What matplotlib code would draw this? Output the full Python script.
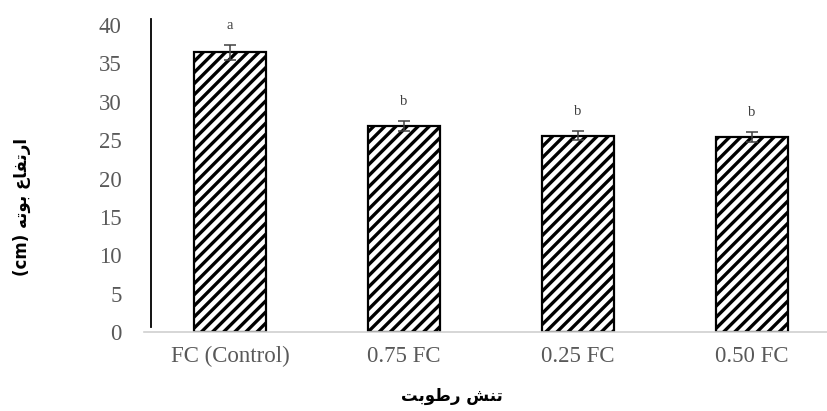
import matplotlib
matplotlib.use("Agg")
import matplotlib.pyplot as plt
import numpy as np

# data
categories = ["FC (Control)", "0.75 FC", "0.25 FC", "0.50 FC"]
heights = [36.45, 26.9, 25.6, 25.45]
errors = [0.95, 0.65, 0.6, 0.65]
letters = ["a", "b", "b", "b"]
y_ticks = [0, 5, 10, 15, 20, 25, 30, 35, 40]

# Persian labels, pre-shaped (presentation forms, visual order) since matplotlib has no bidi
y_label = "(cm) \uFEEA\uFE97\uFEEE\uFE91 \uFEC9\uFE8E\uFED4\uFE97\uFEAD\uFE8D"   # ارتفاع بوته (cm)
x_label = "\uFE96\uFE91\uFEEE\uFEC3\uFEAD \uFEB6\uFEE8\uFE97"                    # تنش رطوبت

plt.rcParams["font.family"] = ["Liberation Serif", "DejaVu Sans"]
plt.rcParams["hatch.linewidth"] = 2.4
plt.rcParams["hatch.color"] = "black"

fig = plt.figure(figsize=(8.28, 4.11), dpi=100)
ax = fig.add_axes([144 / 828, 79 / 411, 695 / 828, 307 / 411])

x = np.arange(len(categories))
ax.bar(x, heights, width=0.41, color="white", edgecolor="black", linewidth=1.6,
       hatch="///", zorder=2)
ax.errorbar(x, heights, yerr=errors, fmt="none", ecolor="#404040", elinewidth=1.1,
            capsize=4, capthick=1.1, zorder=3)

for xi, h, e, lab in zip(x, heights, errors, letters):
    ax.annotate(lab, (xi, h + e), xytext=(0, 14), textcoords="offset points",
                ha="center", va="center", fontsize=10.5, color="#404040")

ax.set_xlim(-0.494, 3.5)
ax.set_ylim(0, 40)
ax.set_yticks(y_ticks)
ax.set_xticks(x)
ax.set_xticklabels(categories)

ax.tick_params(axis="both", labelsize=16.5, labelcolor="#595959")
ax.tick_params(axis="y", length=0, pad=21)
ax.tick_params(axis="x", length=0, pad=10)

for s in ["top", "right"]:
    ax.spines[s].set_visible(False)
ax.spines["bottom"].set_color("#d0d0d0")
ax.spines["bottom"].set_linewidth(1.2)
ax.spines["left"].set_position(("outward", -5))
ax.spines["left"].set_bounds(0.7, 40.8)
ax.spines["left"].set_linewidth(1.3)
ax.spines["left"].set_color("black")

fig.text(22 / 828, 1 - 207 / 411, y_label, rotation=90, ha="center", va="center",
         fontsize=12, fontweight="bold", family=["DejaVu Sans"])
fig.text(452 / 828, 1 - 396 / 411, x_label, ha="center", va="center",
         fontsize=12, fontweight="bold", family=["DejaVu Sans"])

fig.savefig("out.png", dpi=100)
